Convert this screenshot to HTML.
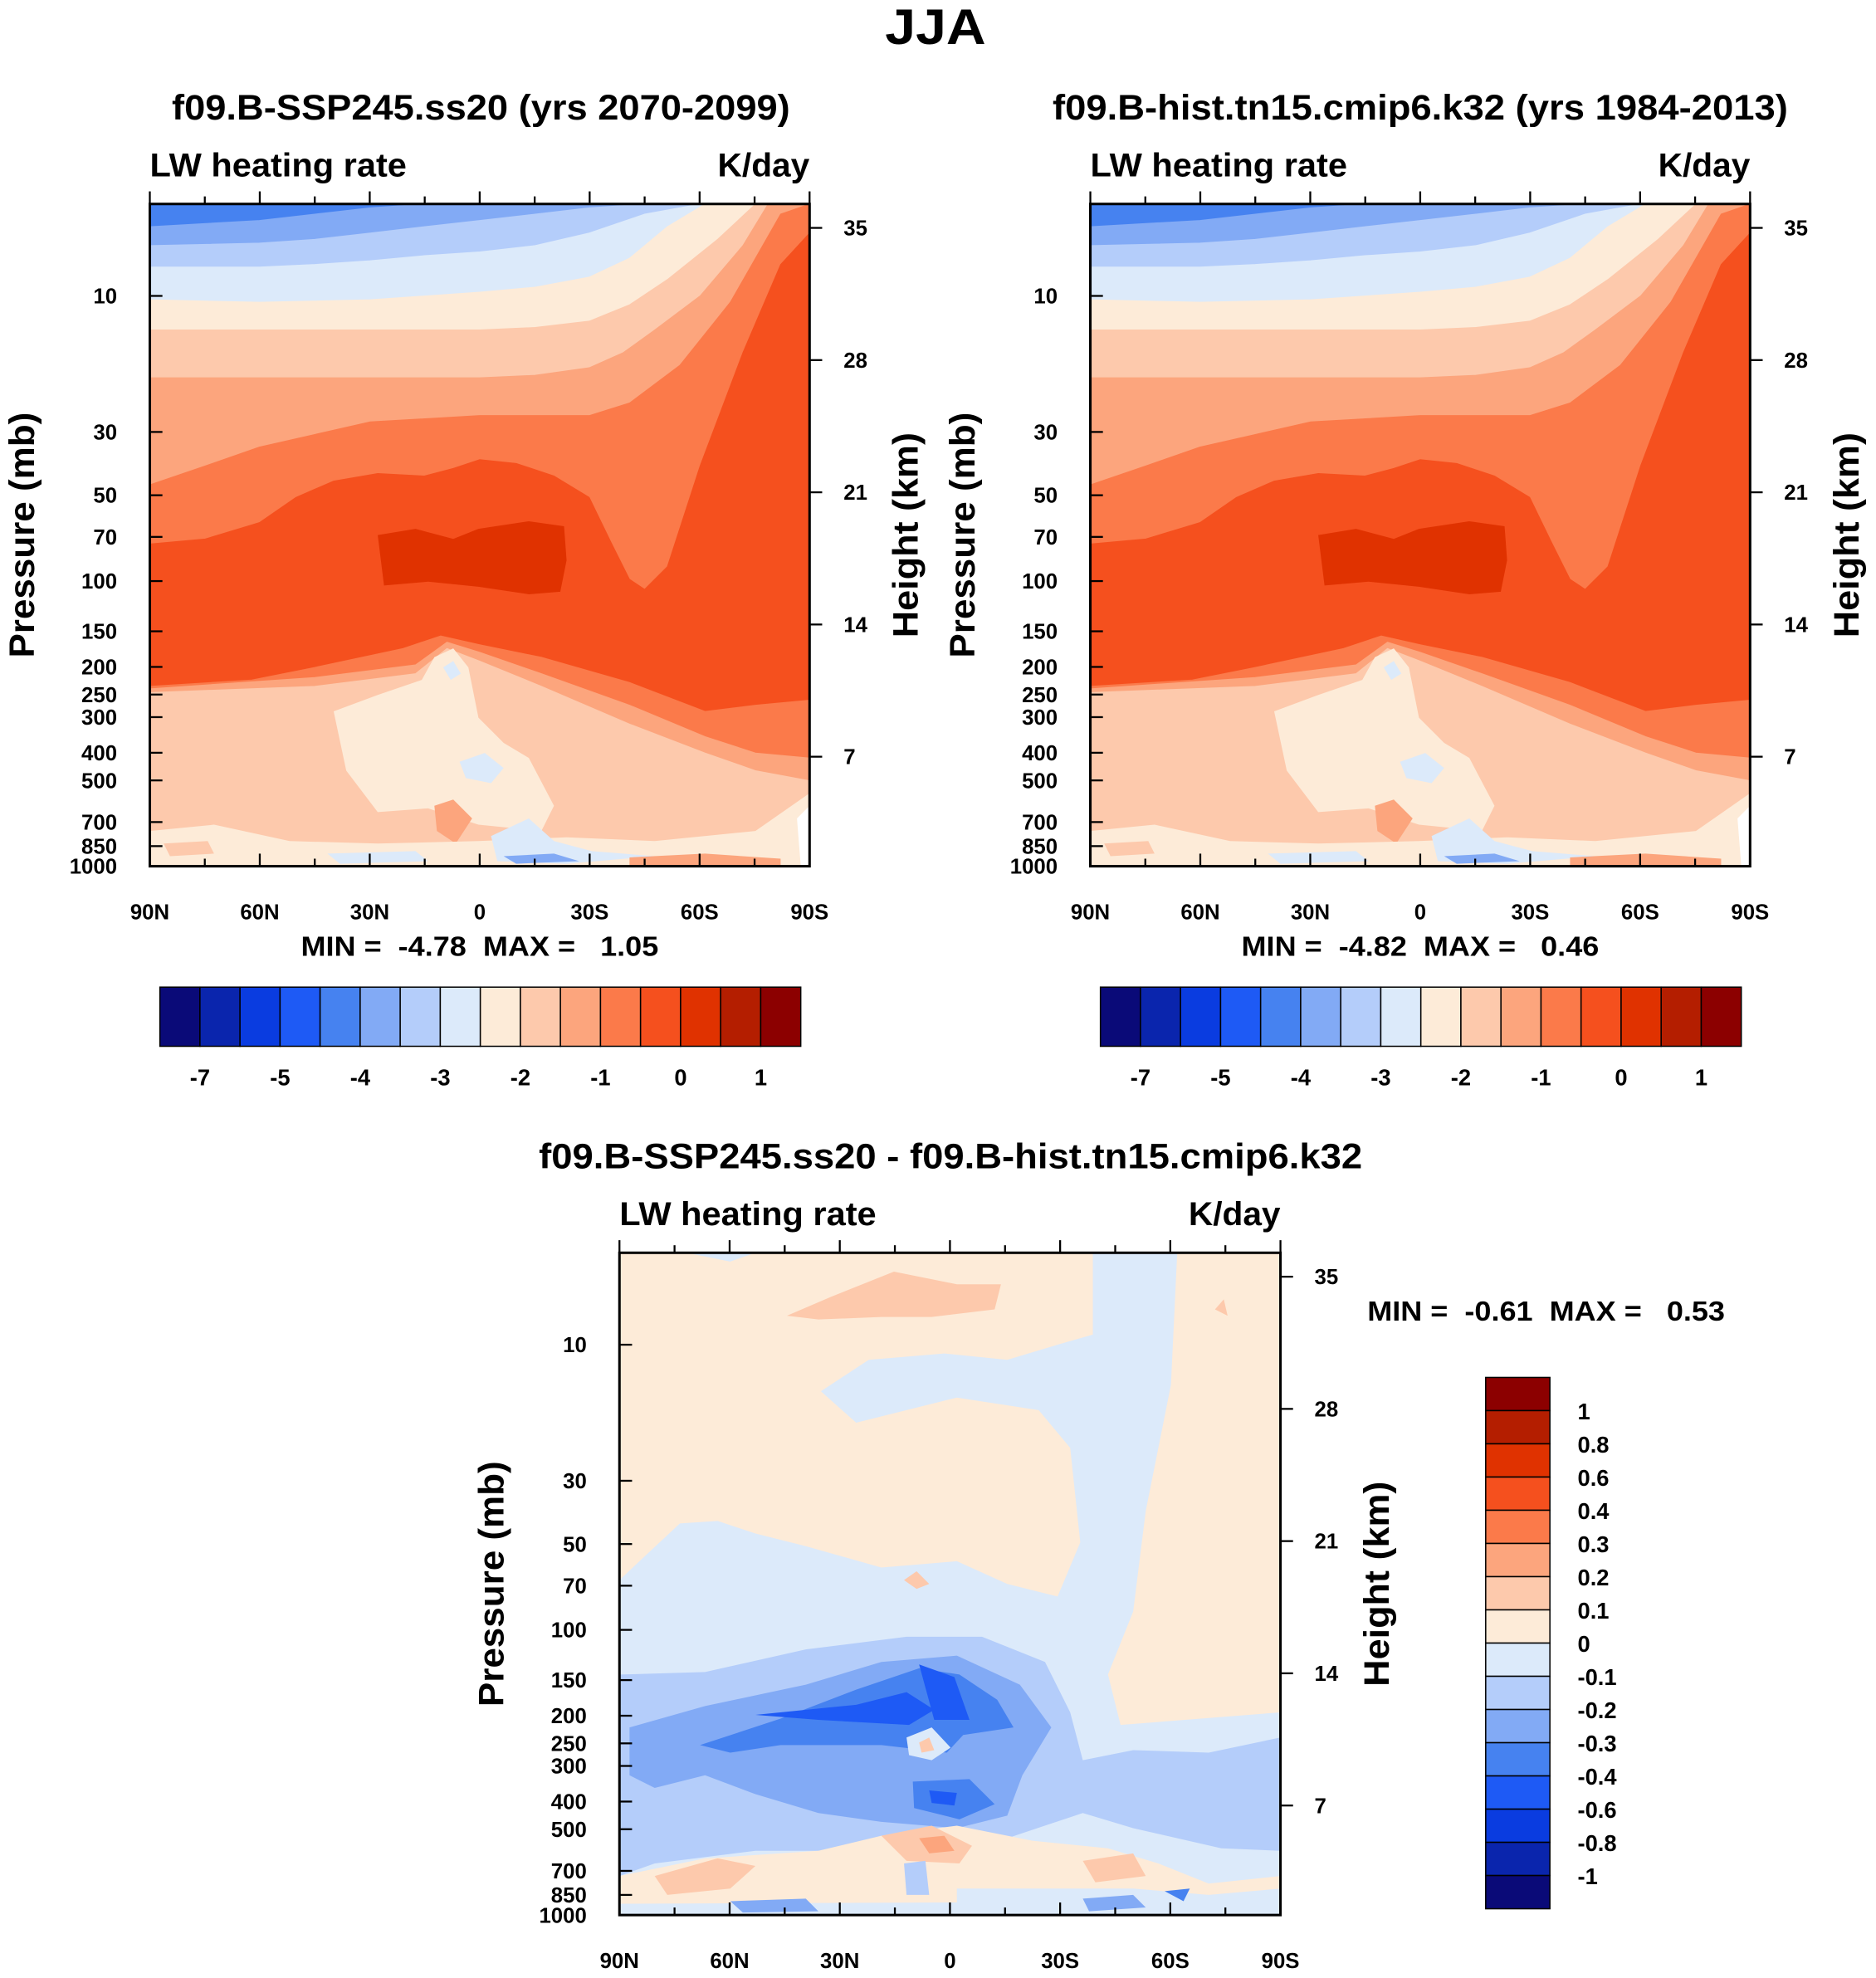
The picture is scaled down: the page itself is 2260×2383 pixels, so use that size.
<!DOCTYPE html>
<html><head><meta charset="utf-8"><style>
html,body{margin:0;padding:0;background:#fff}
svg{display:block}
text{font-family:"Liberation Sans",sans-serif;font-weight:bold;fill:#000;white-space:pre}
</style></head><body>
<svg id="s" xmlns="http://www.w3.org/2000/svg" width="2260" height="2383" viewBox="0 0 1490 1571" preserveAspectRatio="none">
<text x="743" y="35" font-size="40" text-anchor="middle" textLength="80" lengthAdjust="spacingAndGlyphs">JJA</text>
</svg>
<script>
const colors16=["#0a0a78","#0a25ad","#0a3ce0","#1e5af5","#4682f0","#82aaf5","#b4cdfa","#dceafa","#fdebd8","#fdc9ac","#fca57d","#fb7a4a","#f5501e","#e03200","#b41e00","#8c0000"];
const hLabels=["-7","","-5","","-4","","-3","","-2","","-1","","0","","1"];
const vLabels=["1","0.8","0.6","0.4","0.3","0.2","0.1","0","-0.1","-0.2","-0.3","-0.4","-0.6","-0.8","-1"];
const pLabels=[10,30,50,70,100,150,200,250,300,400,500,700,850,1000];
const zLabels=[7,14,21,28,35];
const latLabels=["90N","60N","30N","0","30S","60S","90S"];
const NS="http://www.w3.org/2000/svg";
const svg=document.getElementById('s');
function mk(tag,attrs,parent){const e=document.createElementNS(NS,tag);for(const k in attrs)e.setAttribute(k,attrs[k]);(parent||svg).appendChild(e);return e;}
function txt(x,y,s,size,anchor,name,parent,rot,len){const t=mk('text',{x:x,y:y,'font-size':size,'text-anchor':anchor||'start'},parent);t.textContent=s;


if(len){t.setAttribute('textLength',len);t.setAttribute('lengthAdjust','spacingAndGlyphs');}
if(rot)t.setAttribute('transform','rotate(-90 '+x+' '+y+')');return t;}
const ptop=4.76;
function yP(p,y0,H){return y0+H-H*Math.log10(1000/p)/Math.log10(1000/ptop);}
function yZ(z,y0,H){return y0+H*(544-15*z)/526;}
function pts(a,dx,dy){return a.map(p=>(p[0]+dx)+','+(p[1]+dy)).join(' ');}
const bandTops=[
["#4682f0",[[119,162],[643,162]]],
["#82aaf5",[[119,180],[206,175],[250,170],[294,165],[337,162],[643,162]]],
["#b4cdfa",[[119,195],[206,193],[250,190],[294,185],[337,180],[381,175],[425,170],[468,165],[512,162],[643,162]]],
["#dceafa",[[119,212],[206,212],[250,210],[294,207],[337,203],[381,200],[425,195],[468,185],[512,170],[556,162],[643,162]]],
["#fdebd8",[[119,238],[206,240],[294,238],[381,232],[425,228],[468,220],[500,205],[530,180],[560,162],[643,162]]],
["#fdc9ac",[[119,262],[381,262],[425,260],[468,255],[500,242],[530,222],[570,190],[600,162],[643,162]]],
["#fca57d",[[119,300],[381,300],[425,298],[468,292],[495,280],[520,262],[556,235],[590,195],[610,162],[643,162]]],
["#fb7a4a",[[119,385],[163,370],[206,355],[250,345],[294,335],[381,330],[468,330],[500,320],[540,290],[580,240],[620,170],[643,162]]],
["#f5501e",[[119,432],[163,428],[206,415],[235,395],[265,382],[300,376],[337,378],[360,372],[381,365],[410,368],[440,378],[468,395],[485,430],[500,460],[512,468],[530,450],[556,370],[590,280],[620,210],[643,185]]],
["#fb7a4a",[[119,545],[200,540],[250,530],[320,515],[350,505],[381,512],[430,522],[500,542],[560,565],[600,560],[643,556]]],
["#fca57d",[[119,547],[250,538],[330,528],[355,510],[381,518],[430,535],[500,560],[560,585],[600,598],[643,602]]],
["#fdc9ac",[[119,550],[250,545],[330,535],[355,515],[381,525],[430,545],[500,575],[560,598],[600,612],[643,620]]]
];
const blobs1=[
["#e03200",[[300,425],[330,420],[360,428],[380,420],[420,414],[448,418],[450,445],[445,470],[420,472],[380,466],[340,462],[305,465]]],
["#fdebd8",[[265,565],[300,552],[335,540],[345,522],[360,515],[372,530],[380,570],[400,590],[420,602],[440,640],[430,660],[380,655],[340,642],[300,645],[275,612]]],
["#dceafa",[[352,530],[360,525],[366,535],[358,540]]],
["#dceafa",[[365,605],[385,598],[400,610],[390,622],[370,618]]],
["#fca57d",[[345,640],[360,635],[375,650],[362,670],[347,660]]],
["#fdebd8",[[119,660],[170,655],[230,668],[300,670],[380,668],[450,665],[520,668],[600,660],[643,630],[643,688],[119,688]]],
["#dceafa",[[260,678],[330,676],[340,684],[270,686]]],
["#dceafa",[[390,664],[420,650],[440,668],[470,676],[520,680],[450,686],[395,684]]],
["#82aaf5",[[400,680],[440,678],[460,684],[410,686]]],
["#fca57d",[[500,681],[560,678],[620,682],[620,688],[500,688]]],
["#fdc9ac",[[130,670],[165,668],[170,678],[135,680]]],
["#ffffff",[[633,650],[643,640],[643,688],[636,688]]]
];
const diffShapes=[
["#dceafa",[[868,995],[935,995],[930,1100],[910,1200],[900,1280],[880,1330],[890,1370],[1017,1360],[1017,1521],[492,1521],[492,1255],[510,1238],[540,1210],[570,1208],[600,1218],[640,1228],[700,1245],[760,1240],[800,1258],[840,1268],[858,1225],[850,1150],[825,1120],[760,1110],[680,1130],[652,1105],[690,1080],[750,1075],[800,1080],[840,1068],[868,1060]]],
["#b4cdfa",[[492,1330],[560,1328],[640,1310],[720,1300],[780,1300],[830,1320],[850,1360],[860,1398],[900,1390],[960,1392],[1017,1380],[1017,1470],[970,1468],[900,1452],[860,1440],[800,1460],[700,1470],[600,1470],[520,1480],[492,1490]]],
["#82aaf5",[[500,1372],[560,1355],[640,1338],[700,1320],[760,1315],[810,1338],[835,1372],[812,1410],[800,1442],[760,1452],[700,1447],[650,1440],[600,1425],[560,1410],[520,1420],[500,1410]]],
["#4682f0",[[556,1386],[620,1365],[680,1342],[730,1325],[762,1330],[792,1350],[805,1372],[765,1378],[752,1392],[700,1386],[620,1386],[580,1392]]],
["#1e5af5",[[600,1362],[680,1354],[720,1344],[742,1358],[722,1370],[650,1366]]],
["#1e5af5",[[730,1322],[758,1332],[770,1366],[742,1366]]],
["#dceafa",[[720,1380],[740,1372],[755,1388],[740,1398],[722,1394]]],
["#fdc9ac",[[730,1384],[738,1380],[742,1390],[732,1392]]],
["#4682f0",[[725,1415],[770,1413],[790,1433],[762,1445],[726,1436]]],
["#1e5af5",[[738,1422],[760,1424],[758,1434],[740,1432]]],
["#fdebd8",[[492,1490],[560,1476],[650,1470],[700,1458],[760,1450],[820,1462],[880,1468],[920,1480],[960,1496],[1017,1490],[1017,1510],[492,1512]]],
["#fdc9ac",[[700,1458],[740,1450],[772,1466],[762,1480],[720,1478]]],
["#fca57d",[[730,1460],[750,1458],[758,1470],[738,1472]]],
["#fdc9ac",[[520,1490],[570,1476],[600,1482],[580,1500],[530,1505]]],
["#fdc9ac",[[860,1478],[900,1472],[910,1490],[870,1495]]],
["#b4cdfa",[[718,1480],[735,1478],[738,1505],[720,1505]]],
["#dceafa",[[760,1500],[900,1500],[960,1505],[1017,1500],[1017,1521],[760,1521]]],
["#82aaf5",[[580,1510],[640,1508],[650,1518],[590,1519]]],
["#82aaf5",[[860,1508],[900,1505],[910,1515],[865,1518]]],
["#4682f0",[[925,1502],[945,1500],[940,1510]]],
["#fdc9ac",[[625,1045],[660,1030],[710,1010],[760,1020],[795,1020],[790,1040],[740,1046],[700,1046],[650,1048]]],
["#fdc9ac",[[718,1255],[728,1248],[738,1258],[728,1262]]],
["#fdc9ac",[[965,1040],[972,1032],[975,1045]]],
["#dceafa",[[545,995],[600,995],[580,1002]]]
];
function plot(x0,y0,W,H,name,bandsDX){
  const g=mk('g',{});
  
  
  const cp='cp'+x0;
  const d=mk('clipPath',{id:cp},g);mk('rect',{x:x0,y:y0,width:W,height:H},d);
  const f=mk('g',{'clip-path':'url(#'+cp+')'},g);
  if(bandsDX!==null){
    bandTops.forEach(b=>{const p=b[1].concat([[643,688],[119,688]]);const pl=mk('polygon',{points:pts(p,bandsDX,0),fill:b[0],stroke:b[0],'stroke-width':0.5},f);
      
      });
    blobs1.forEach(b=>{const pl=mk('polygon',{points:pts(b[1],bandsDX,0),fill:b[0]},f);
      
      });
  } else {
    mk('rect',{x:x0,y:y0,width:W,height:H,fill:'#fdebd8'},f);
    diffShapes.forEach(b=>{const pl=mk('polygon',{points:pts(b[1],0,0),fill:b[0]},f);
      
      });
  }
  mk('rect',{x:x0,y:y0,width:W,height:H,fill:'none',stroke:'#000','stroke-width':2},g);
  for(let i=0;i<=12;i++){const x=x0+W*i/12;const L=i%2?6:10;
    mk('line',{x1:x,y1:y0,x2:x,y2:y0-L,stroke:'#000','stroke-width':1.5},g);
    mk('line',{x1:x,y1:y0+H,x2:x,y2:y0+H-L,stroke:'#000','stroke-width':1.5},g);}
  latLabels.forEach((l,i)=>txt(x0+W*i/6,y0+H+42,l,17,'middle','x-tick-label',g));
  pLabels.forEach(p=>{const y=yP(p,y0,H);mk('line',{x1:x0,y1:y,x2:x0+10,y2:y,stroke:'#000','stroke-width':1.5},g);
    txt(x0-26,y+6,String(p),17,'end','y-tick-label',g);});
  zLabels.forEach(z=>{const y=yZ(z,y0,H);mk('line',{x1:x0+W,y1:y,x2:x0+W+10,y2:y,stroke:'#000','stroke-width':1.5},g);
    txt(x0+W+27,y+6,String(z),17,'start','right-tick-label',g);});
  txt(x0,y0-22,'LW heating rate',26,'start','variable-label',g,false,204);
  txt(x0+W,y0-22,'K/day',26,'end','units-label',g,false,73);
  txt(x0-92,y0+H/2,'Pressure (mb)',28,'middle','y-axis-title',g,true,195);
  txt(x0+W+86,y0+H/2,'Height (km)',28,'middle','right-axis-title',g,true,163);
  return g;
}
function hbar(x0,y0,W,H,name){
  const g=mk('g',{});
  
  
  const w=W/colors16.length;
  colors16.forEach((c,i)=>{const r=mk('rect',{x:x0+i*w,y:y0,width:w,height:H,fill:c,stroke:'#000','stroke-width':1},g);
    
    });
  hLabels.forEach((l,i)=>{if(l)txt(x0+(i+1)*w,y0+H+31,l,18,'middle','colorbar-label',g);});
}
function vbar(x0,y0,W,H,name){
  const g=mk('g',{});
  
  
  const h=H/colors16.length;
  colors16.slice().reverse().forEach((c,i)=>{const r=mk('rect',{x:x0,y:y0+i*h,width:W,height:h,fill:c,stroke:'#000','stroke-width':1},g);
    
    });
  vLabels.forEach((l,i)=>txt(x0+W+22,y0+(i+1)*h+7,l,18,'start','colorbar-label',g));
}
plot(119,162,524,526,'panel-ssp245',0);
plot(866,162,524,526,'panel-hist',747);
plot(492,995,525,526,'panel-difference',null);
txt(382,95,'f09.B-SSP245.ss20 (yrs 2070-2099)',28,'middle','panel-title-ssp245',null,false,491);
txt(1128,95,'f09.B-hist.tn15.cmip6.k32 (yrs 1984-2013)',28,'middle','panel-title-hist',null,false,584);
txt(755,928,'f09.B-SSP245.ss20 - f09.B-hist.tn15.cmip6.k32',28,'middle','panel-title-difference',null,false,654);
txt(381,759,'MIN =  -4.78  MAX =   1.05',22,'middle','minmax-ssp245',null,false,284);
txt(1128,759,'MIN =  -4.82  MAX =   0.46',22,'middle','minmax-hist',null,false,284);
txt(1228,1049,'MIN =  -0.61  MAX =   0.53',22,'middle','minmax-difference',null,false,284);
hbar(127,784,509,47,'colorbar-ssp245');
hbar(874,784,509,47,'colorbar-hist');
vbar(1180,1094,51,422,'colorbar-difference');
</script>
</body></html>
